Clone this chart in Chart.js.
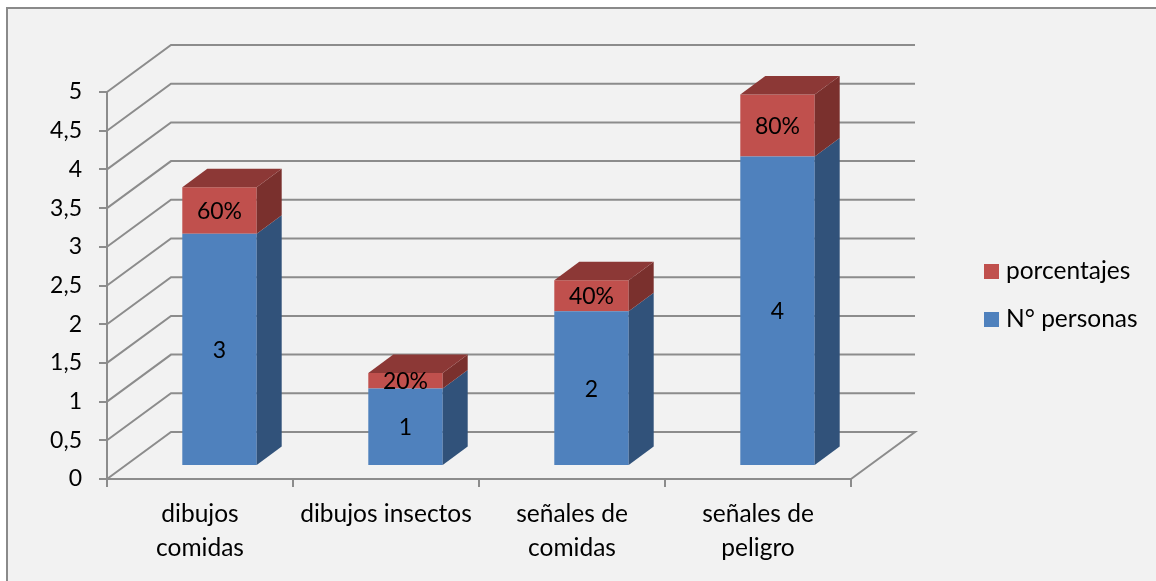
<!DOCTYPE html>
<html lang="es">
<head>
<meta charset="UTF-8" />
<title>Chart</title>
<script src="https://cdn.jsdelivr.net/npm/chart.js"></script>
<style>
    html, body { margin: 0; padding: 0; background: #fff; }
    #wrap { position: absolute; left: 6px; top: 7px; width: 1150px; height: 574px; background: #f2f2f2; }
    #frame { position: absolute; left: 6px; top: 7px; width: 1150px; height: 574px; border: 2px solid #8a8a8a; border-right: 0; border-bottom: 0; box-sizing: border-box; pointer-events: none; }
    canvas { display: block; }
</style>
</head>
<body>
<div id="wrap"><canvas id="chart" width="1150" height="574"></canvas></div>
<div id="frame"></div>
<script>
const categories = [["dibujos", "comidas"], "dibujos insectos", ["señales de", "comidas"], ["señales de", "peligro"]];
const personas = [3, 1, 2, 4];
const porcentajes = [0.6, 0.2, 0.4, 0.8];
const personasLabels = ["3", "1", "2", "4"];
const porcentajesLabels = ["60%", "20%", "40%", "80%"];

const FONT = "Lato, Carlito, sans-serif";
const GRID = "#8c8c8c";
// depth of the 3d box (back wall) and of the bars
const WALL_DX = 64, WALL_DY = -47;
const BAR_X = 19.5, BAR_Y = -13;
const BAR_DX = 25, BAR_DY = -18.5;

const pseudo3d = {
    id: "pseudo3d",
    // walls and floor go under the bars
    beforeDatasetsDraw(chart) {
        const { ctx, chartArea: a, scales: { y } } = chart;
        ctx.save();
        ctx.strokeStyle = GRID;
        ctx.lineWidth = 2;
        y.ticks.forEach(t => {
            const py = y.getPixelForValue(t.value);
            ctx.beginPath();
            ctx.moveTo(a.left, py);
            ctx.lineTo(a.left + WALL_DX, py + WALL_DY);
            ctx.lineTo(a.right + WALL_DX, py + WALL_DY);
            if (t.value === 0) ctx.lineTo(a.right, py);
            ctx.stroke();
        });
        ctx.restore();
        // bars sit inside the box, so shift them
        ctx.save();
        ctx.translate(BAR_X, BAR_Y);
    },
    afterDatasetsDraw(chart) {
        const { ctx } = chart;
        const sideColors = ["#31527a", "#7a302d"];
        const topColor = "#8c3836";
        chart.data.datasets.forEach((ds, i) => {
            chart.getDatasetMeta(i).data.forEach(bar => {
                const right = bar.x + bar.width / 2;
                const left = bar.x - bar.width / 2;
                ctx.fillStyle = sideColors[i];
                ctx.beginPath();
                ctx.moveTo(right, bar.y);
                ctx.lineTo(right + BAR_DX, bar.y + BAR_DY);
                ctx.lineTo(right + BAR_DX, bar.base + BAR_DY);
                ctx.lineTo(right, bar.base);
                ctx.closePath();
                ctx.fill();
                if (i === 1) {
                    ctx.fillStyle = topColor;
                    ctx.beginPath();
                    ctx.moveTo(left, bar.y);
                    ctx.lineTo(left + BAR_DX, bar.y + BAR_DY);
                    ctx.lineTo(right + BAR_DX, bar.y + BAR_DY);
                    ctx.lineTo(right, bar.y);
                    ctx.closePath();
                    ctx.fill();
                }
            });
        });
        // value labels
        ctx.fillStyle = "#000";
        ctx.font = "23px " + FONT;
        ctx.textAlign = "center";
        ctx.textBaseline = "middle";
        chart.data.datasets.forEach((ds, i) => {
            const labels = i === 0 ? personasLabels : porcentajesLabels;
            chart.getDatasetMeta(i).data.forEach((bar, j) => {
                ctx.fillText(labels[j], bar.x, (bar.y + bar.base) / 2 + 1);
            });
        });
        ctx.restore();
    },
    // legend on the far right, last series first
    afterDraw(chart) {
        const { ctx } = chart;
        ctx.save();
        ctx.font = "24.5px " + FONT;
        ctx.textAlign = "left";
        ctx.textBaseline = "middle";
        [...chart.data.datasets].reverse().forEach((ds, i) => {
            const top = 257 + i * 48;
            ctx.fillStyle = ds.backgroundColor;
            ctx.fillRect(978, top, 15, 15);
            ctx.fillStyle = "#000";
            ctx.fillText(ds.label, 1000, top + 7);
        });
        ctx.restore();
    }
};

new Chart(document.getElementById("chart"), {
    type: "bar",
    data: {
        labels: categories,
        datasets: [
            { label: "N° personas", data: personas, backgroundColor: "#4f81bd", stack: "a", categoryPercentage: 0.4, barPercentage: 1 },
            { label: "porcentajes", data: porcentajes, backgroundColor: "#c0504d", stack: "a", categoryPercentage: 0.4, barPercentage: 1 }
        ]
    },
    options: {
        responsive: false,
        animation: false,
        layout: { padding: { left: 0, top: 85, right: 305, bottom: 0 } },
        plugins: {
            tooltip: { enabled: false },
            legend: { display: false }
        },
        scales: {
            x: {
                stacked: true,
                afterFit(scale) { scale.height = 102; },
                grid: { display: true, drawOnChartArea: false, color: GRID, lineWidth: 2, tickLength: 8 },
                border: { color: GRID, width: 2 },
                ticks: { color: "#000", font: { family: FONT, size: 24.5, lineHeight: 1.35 }, maxRotation: 0, autoSkip: false, padding: 11 }
            },
            y: {
                stacked: true,
                min: 0,
                max: 5,
                afterFit(scale) { scale.width = 101; },
                grid: { display: true, drawOnChartArea: false, color: GRID, lineWidth: 2, tickLength: 8 },
                border: { color: GRID, width: 2 },
                ticks: {
                    stepSize: 0.5,
                    color: "#000",
                    font: { family: FONT, size: 23 },
                    padding: 17,
                    callback: v => String(v).replace(".", ",")
                }
            }
        }
    },
    plugins: [pseudo3d]
});
</script>
</body>
</html>
